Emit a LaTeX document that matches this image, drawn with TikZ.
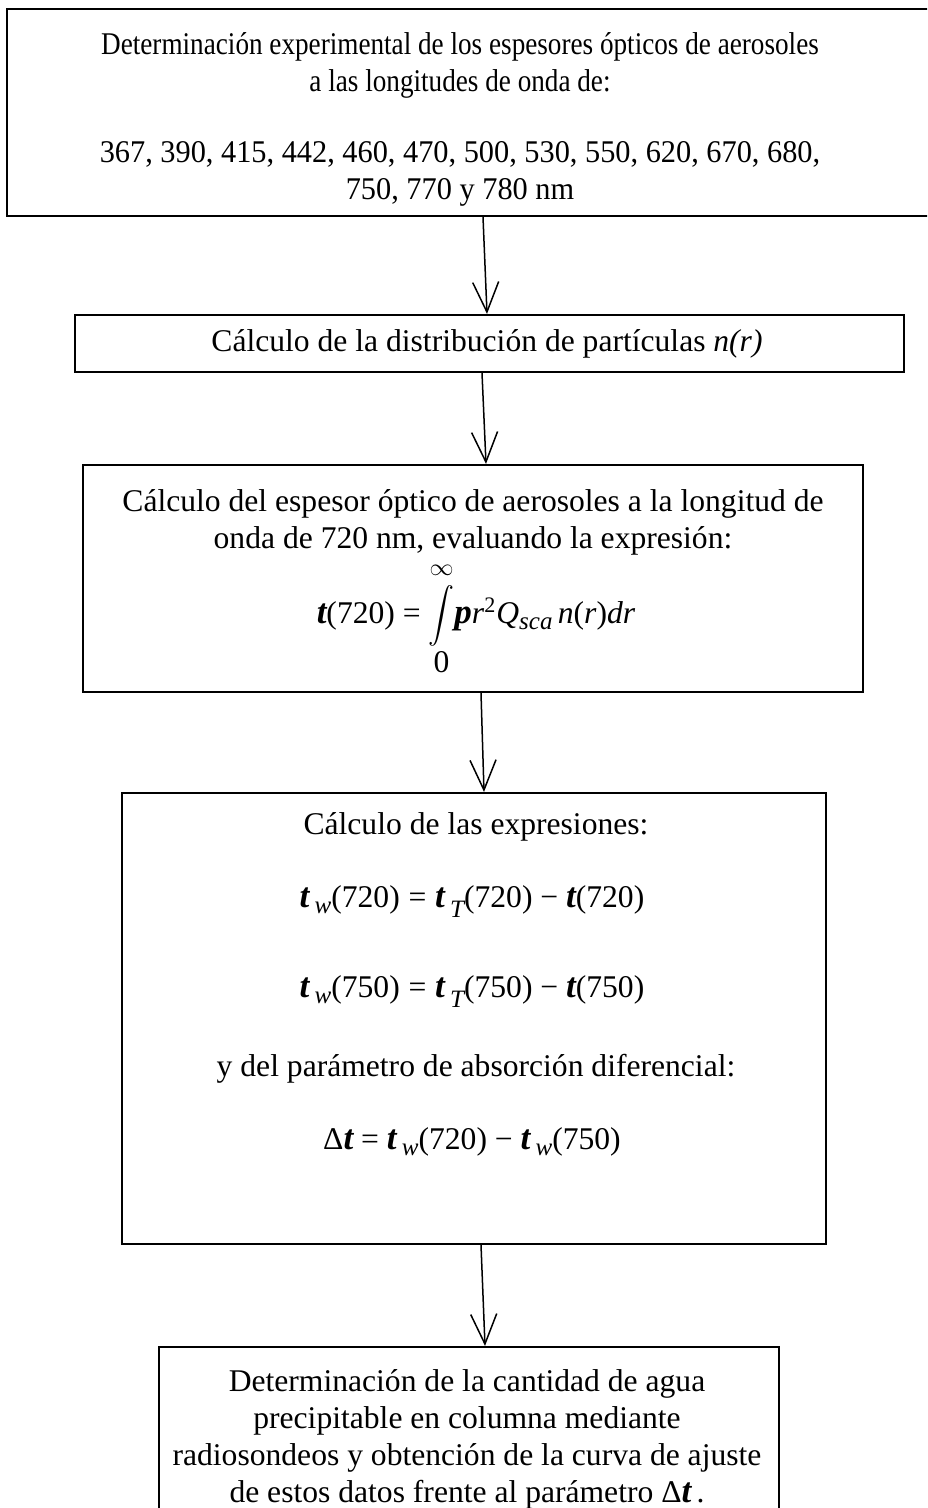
\documentclass[tikz,border=0pt]{standalone}
\usepackage{amsmath}
\usepackage{graphicx}
\usepackage{fontspec}
\setmainfont{Liberation Serif}
\usetikzlibrary{arrows.meta}

% bold italic letters that stand in for tau and pi
\newcommand{\tb}{{\fontsize{17.5}{17.5}\selectfont\bfseries\itshape t}}
\newcommand{\pb}{{\fontsize{17.5}{17.5}\selectfont\bfseries\itshape p}}
\newcommand{\lowsub}[2][-3pt]{\raisebox{#1}{\fontsize{12.5}{12.5}\selectfont\itshape #2}}
\newcommand{\narrow}[2][0.86]{\scalebox{#1}[1]{#2}}
\newcommand{\tallint}{\mathop{\vcenter{\hbox{\scalebox{0.9}[0.95]{$\displaystyle\int$}}}}}

\tikzset{
  box/.style={draw, line width=1.1pt, inner sep=0pt},
  txt/.style={align=center, inner sep=0pt, font=\fontsize{15.8}{18.5}\selectfont},
  eqn/.style={inner sep=0pt, anchor=base, font=\fontsize{15.8}{18.5}\selectfont},
  flow/.style={-{Straight Barb[length=15pt,width=13pt]}, line width=0.75pt},
}

\begin{document}
\begin{tikzpicture}[x=0.5pt,y=-0.5pt]
    \useasboundingbox (0,0) rectangle (927,1508);
    \clip (0,0) rectangle (927,1508);

    % Boxes
    \node[box, minimum width=476.5pt, minimum height=103.5pt] (b1) at (483.5,112.5) {};
    \node[box, minimum width=414.5pt, minimum height=28.5pt] (b2) at (489.5,343.5) {};
    \node[box, minimum width=390pt, minimum height=113.5pt] (b3) at (473,578.5) {};
    \node[box, minimum width=352pt, minimum height=225.5pt] (b4) at (474,1018.5) {};
    \node[box, minimum width=310pt, minimum height=100pt] (b5) at (469,1447) {};

    % Texts
    \node[txt] (t1) at (460,119) {\narrow{Determinación experimental de los espesores ópticos de aerosoles}\\
        \narrow{a las longitudes de onda de:}\\[17pt]
        \narrow[0.96]{367, 390, 415, 442, 460, 470, 500, 530, 550, 620, 670, 680,}\\
        \narrow[0.96]{750, 770 y 780 nm}};
    \node[txt] (t2) at (487,344) {Cálculo de la distribución de partículas \textit{n(r)}};
    \node[txt] (t3) at (473,522) {Cálculo del espesor óptico de aerosoles a la longitud de\\
        onda de 720 nm, evaluando la expresión:};
    \node[eqn] (f3) at (476,623) {\tb(720) = $\displaystyle\tallint\limits_{\mbox{0}}^{\raisebox{2pt}{\fontsize{11.5}{11.5}\selectfont$\infty$}}$\pb\textit{r}\textsuperscript{2}\textit{Q}\lowsub{sca}\,\textit{n}(\textit{r})\textit{dr}};
    \node[txt] (t4) at (476,827) {Cálculo de las expresiones:};
    \node[eqn] (eqA) at (472,907) {\tb\,\lowsub{w}(720)\;=\;\tb\,\lowsub[-5pt]{T}(720) − \tb(720)};
    \node[eqn] (eqB) at (472,997) {\tb\,\lowsub{w}(750)\;=\;\tb\,\lowsub[-5pt]{T}(750) − \tb(750)};
    \node[txt] (t5) at (476,1069) {y del parámetro de absorción diferencial:};
    \node[eqn] (eqC) at (472,1149) {Δ\tb\ = \tb\,\lowsub{w}(720) − \tb\,\lowsub{w}(750)};
    \node[txt] (t6) at (467,1439) {Determinación de la cantidad de agua\\
        precipitable en columna mediante\\
        radiosondeos y obtención de la curva de ajuste\\
        de estos datos frente al parámetro Δ\tb\,.};

    % Arrows
    \draw[flow] ([xshift=-0.25pt]b1.south) -- ([xshift=-1.25pt]b2.north);
    \draw[flow] ([xshift=-3.75pt]b2.south) -- ([xshift=6.5pt]b3.north);
    \draw[flow] ([xshift=4pt]b3.south) -- ([xshift=5pt]b4.north);
    \draw[flow] ([xshift=3.5pt]b4.south) -- ([xshift=8pt]b5.north);
\end{tikzpicture}
\end{document}
